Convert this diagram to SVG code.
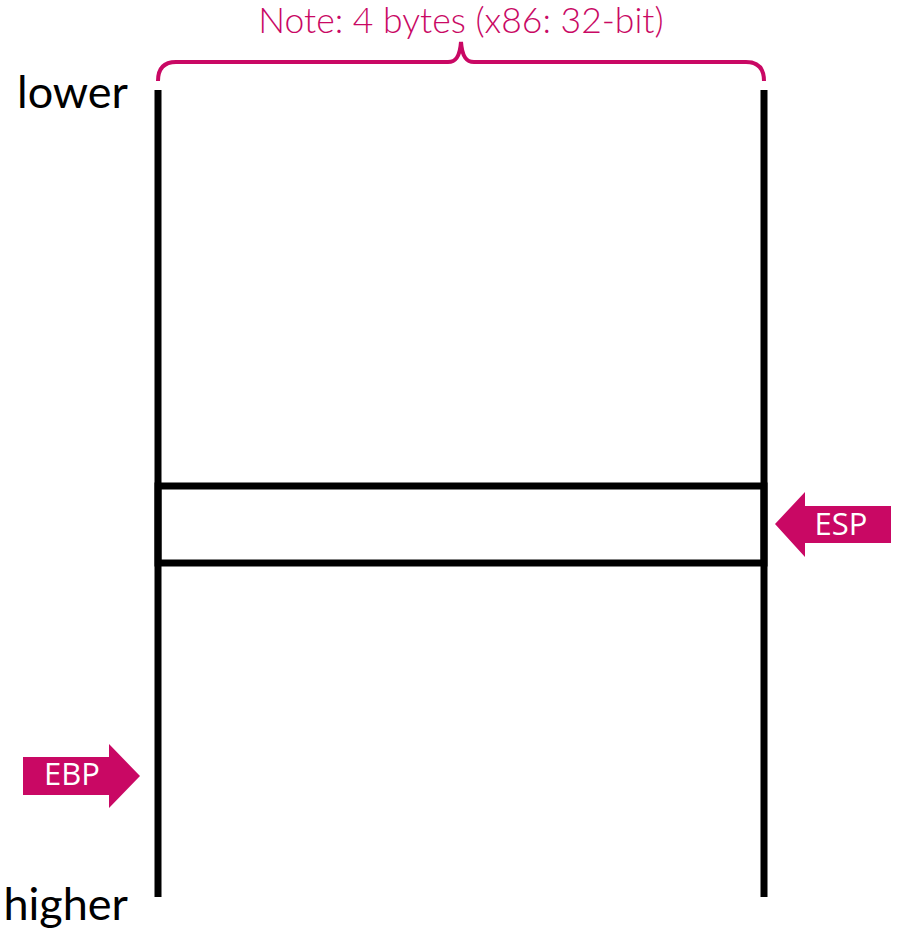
<svg xmlns="http://www.w3.org/2000/svg" width="897" height="933" viewBox="0 0 897 933">
<style>
.ln{stroke:#000;stroke-width:7;fill:none}
.lbl{font-family:Lato,"Open Sans","Liberation Sans",sans-serif;font-size:45px;fill:#000}
.arr{fill:#C90864}
.at{font-family:"Open Sans","Noto Sans","Liberation Sans",sans-serif;font-size:31px;fill:#fff}
</style>
<rect width="897" height="933" fill="#fff"/>
<g id="note">
<path d="M158,81 C158,68 164,62 176,62 L448,62 C456,62 460,56 461,42 C462,56 466,62 474,62 L746,62 C758,62 764,68 764,81" fill="none" stroke="#C90864" stroke-width="4"/>
<text x="461" y="33" text-anchor="middle" font-family="Lato,'Open Sans','Liberation Sans',sans-serif" font-weight="300" font-size="35.5" fill="#C90864">Note: 4 bytes (x86: 32-bit)</text>
</g>
<g id="stack">
<line class="ln" x1="158" y1="90" x2="158" y2="897"/>
<line class="ln" x1="764" y1="90" x2="764" y2="897"/>
<rect class="ln" x="158" y="486" width="606" height="77"/>
</g>
<g id="labels">
<text class="lbl" x="128" y="108" text-anchor="end">lower</text>
<text class="lbl" x="128" y="920" text-anchor="end">higher</text>
</g>
<g id="esp">
<polygon class="arr" points="775,524 805,492 805,506 891,506 891,543 805,543 805,557"/>
<text class="at" x="841" y="535" text-anchor="middle">ESP</text>
</g>
<g id="ebp">
<polygon class="arr" points="23,757 109,757 109,744 140,776 109,808 109,795 23,795"/>
<text class="at" x="72" y="785" text-anchor="middle">EBP</text>
</g>
</svg>
